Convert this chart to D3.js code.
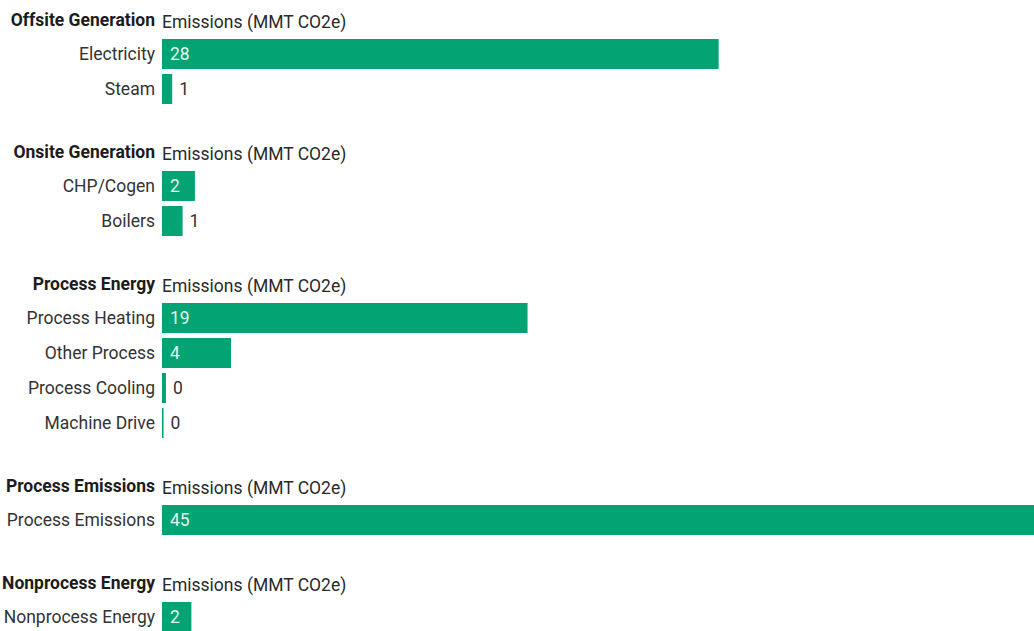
<!DOCTYPE html>
<html>
<head>
<meta charset="utf-8">
<script src="https://cdn.jsdelivr.net/npm/d3@7"></script>
<style>
  html, body { margin: 0; padding: 0; background: #fff; }
  svg { display: block; font-family: Roboto, "Noto Sans", sans-serif; }
</style>
</head>
<body>
<svg id="chart" width="1034" height="631"></svg>
<script>
// ---- data ----
const groups = ["Offsite Generation", "Onsite Generation", "Process Energy", "Process Emissions", "Nonprocess Energy"];
const categories = [
  ["Electricity", "Steam"],
  ["CHP/Cogen", "Boilers"],
  ["Process Heating", "Other Process", "Process Cooling", "Machine Drive"],
  ["Process Emissions"],
  ["Nonprocess Energy"]
];
const values = [
  [28.4, 0.52],
  [1.68, 1.05],
  [18.65, 3.52, 0.2, 0.08],
  [45.2],
  [1.5]
];
const axisTitle = "Emissions (MMT CO2e)";

// ---- layout ----
const svg = d3.select("#chart");
const x0 = 162;
const x = d3.scaleLinear().domain([0, 45]).range([x0, x0 + 882]);
const rowStep = 35, barH = 30;
const green = "#03a373";
const fs = 17.5;

let headerY = 20;
groups.forEach((g, gi) => {
  const cats = categories[gi];
  const vals = values[gi];
  const firstRow = headerY + 34;
  const y = d3.scaleBand()
    .domain(cats)
    .range([firstRow - rowStep / 2, firstRow - rowStep / 2 + rowStep * cats.length])
    .paddingInner((rowStep - barH) / rowStep)
    .paddingOuter((rowStep - barH) / rowStep / 2);

  const gEl = svg.append("g");

  gEl.append("text")
    .attr("x", 155).attr("y", headerY)
    .attr("dy", "0.35em")
    .attr("text-anchor", "end")
    .attr("font-size", fs).attr("font-weight", "bold")
    .attr("fill", "#1c1c1c")
    .text(g);
  gEl.append("text")
    .attr("x", x0).attr("y", headerY + 2)
    .attr("dy", "0.35em")
    .attr("font-size", fs)
    .attr("fill", "#2a2a2a")
    .text(axisTitle);

  const rows = gEl.selectAll("g.row")
    .data(cats.map((c, i) => ({ c, v: vals[i] })))
    .join("g").attr("class", "row");

  rows.append("text")
    .attr("x", 155)
    .attr("y", d => y(d.c) + y.bandwidth() / 2)
    .attr("dy", "0.35em")
    .attr("text-anchor", "end")
    .attr("font-size", fs)
    .attr("fill", "#333")
    .text(d => d.c);

  rows.append("rect")
    .attr("x", x(0))
    .attr("y", d => y(d.c))
    .attr("width", d => Math.max(1, x(d.v) - x(0)))
    .attr("height", y.bandwidth())
    .attr("fill", green);

  rows.append("text")
    .attr("x", d => (x(d.v) - x(0) > 26) ? x(0) + 8 : x(d.v) + 7)
    .attr("y", d => y(d.c) + y.bandwidth() / 2)
    .attr("dy", "0.35em")
    .attr("font-size", fs)
    .attr("fill", d => (x(d.v) - x(0) > 26) ? "#e6f6ee" : "#333")
    .text(d => Math.round(d.v));

  headerY = firstRow + rowStep * (cats.length - 1) + 63;
});
</script>
</body>
</html>
